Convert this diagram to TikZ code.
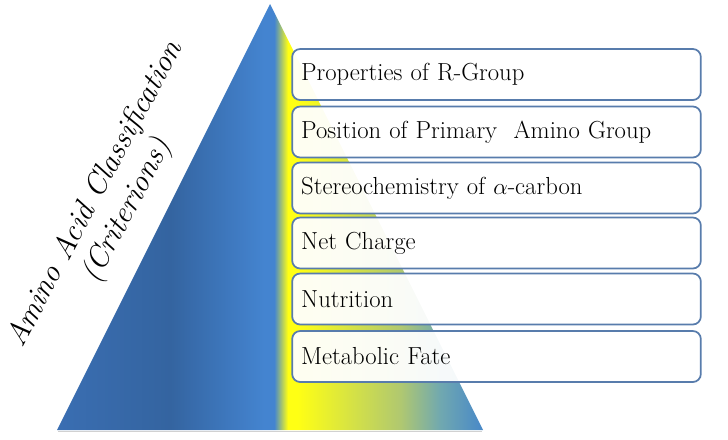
\documentclass[tikz,border=0pt]{standalone}
\usepackage{fontspec}
\usepackage{tikz}
\usetikzlibrary{positioning}

\definecolor{pyrA}{RGB}{58,110,178}
\definecolor{pyrB}{RGB}{52,100,160}
\definecolor{pyrC}{RGB}{68,132,208}
\definecolor{pyrY}{RGB}{255,255,20}
\definecolor{pyrD}{RGB}{225,232,64}
\definecolor{pyrE}{RGB}{176,200,112}
\definecolor{pyrF}{RGB}{112,168,176}
\definecolor{pyrG}{RGB}{72,136,200}
\definecolor{critline}{RGB}{88,124,172}

\pgfdeclarehorizontalshading{pyrshade}{100bp}{
  color(0bp)=(pyrA); color(25bp)=(pyrA); color(38.3bp)=(pyrB);
  color(49.3bp)=(pyrC); color(50.5bp)=(pyrC); color(52.1bp)=(pyrY);
  color(53.2bp)=(pyrY); color(65.3bp)=(pyrE); color(70bp)=(pyrF);
  color(75bp)=(pyrG); color(100bp)=(pyrG)}

\tikzset{
  critbox/.style={draw=critline, line width=1.3pt, rounded corners=6pt,
    fill=white, fill opacity=0.94, text opacity=1,
    minimum height=38.25pt, text width=293pt, inner xsep=6.75pt,
    align=left, font=\fontsize{18.5}{21}\selectfont},
  crittitle/.style={rotate=62, align=center,
    font=\fontsize{23}{27}\selectfont\itshape}
}

\begin{document}
\begin{tikzpicture}[x=0.75pt,y=-0.75pt]
	\useasboundingbox (0,0) rectangle (728,439);
	\draw [black!30, line width=1.2pt, opacity=0.6] (58,431.5) -- (482,431.5);
	\shade [shading=pyrshade] (57,430) -- (270,4) -- (483,430) -- cycle;
	\node [crittitle] (title) at (112,203) {Amino Acid Classification\\(Criterions)};
	\node [critbox] (crit1) at (496.5,74.5) {Properties of R-Group};
	\node [critbox] (crit2) at (496.5,132) {Position of Primary~ Amino Group};
	\node [critbox] (crit3) at (496.5,188) {Stereochemistry of $\alpha$-carbon};
	\node [critbox] (crit4) at (496.5,243) {Net Charge};
	\node [critbox] (crit5) at (496.5,299) {Nutrition};
	\node [critbox] (crit6) at (496.5,356.5) {Metabolic Fate};
\end{tikzpicture}
\end{document}
